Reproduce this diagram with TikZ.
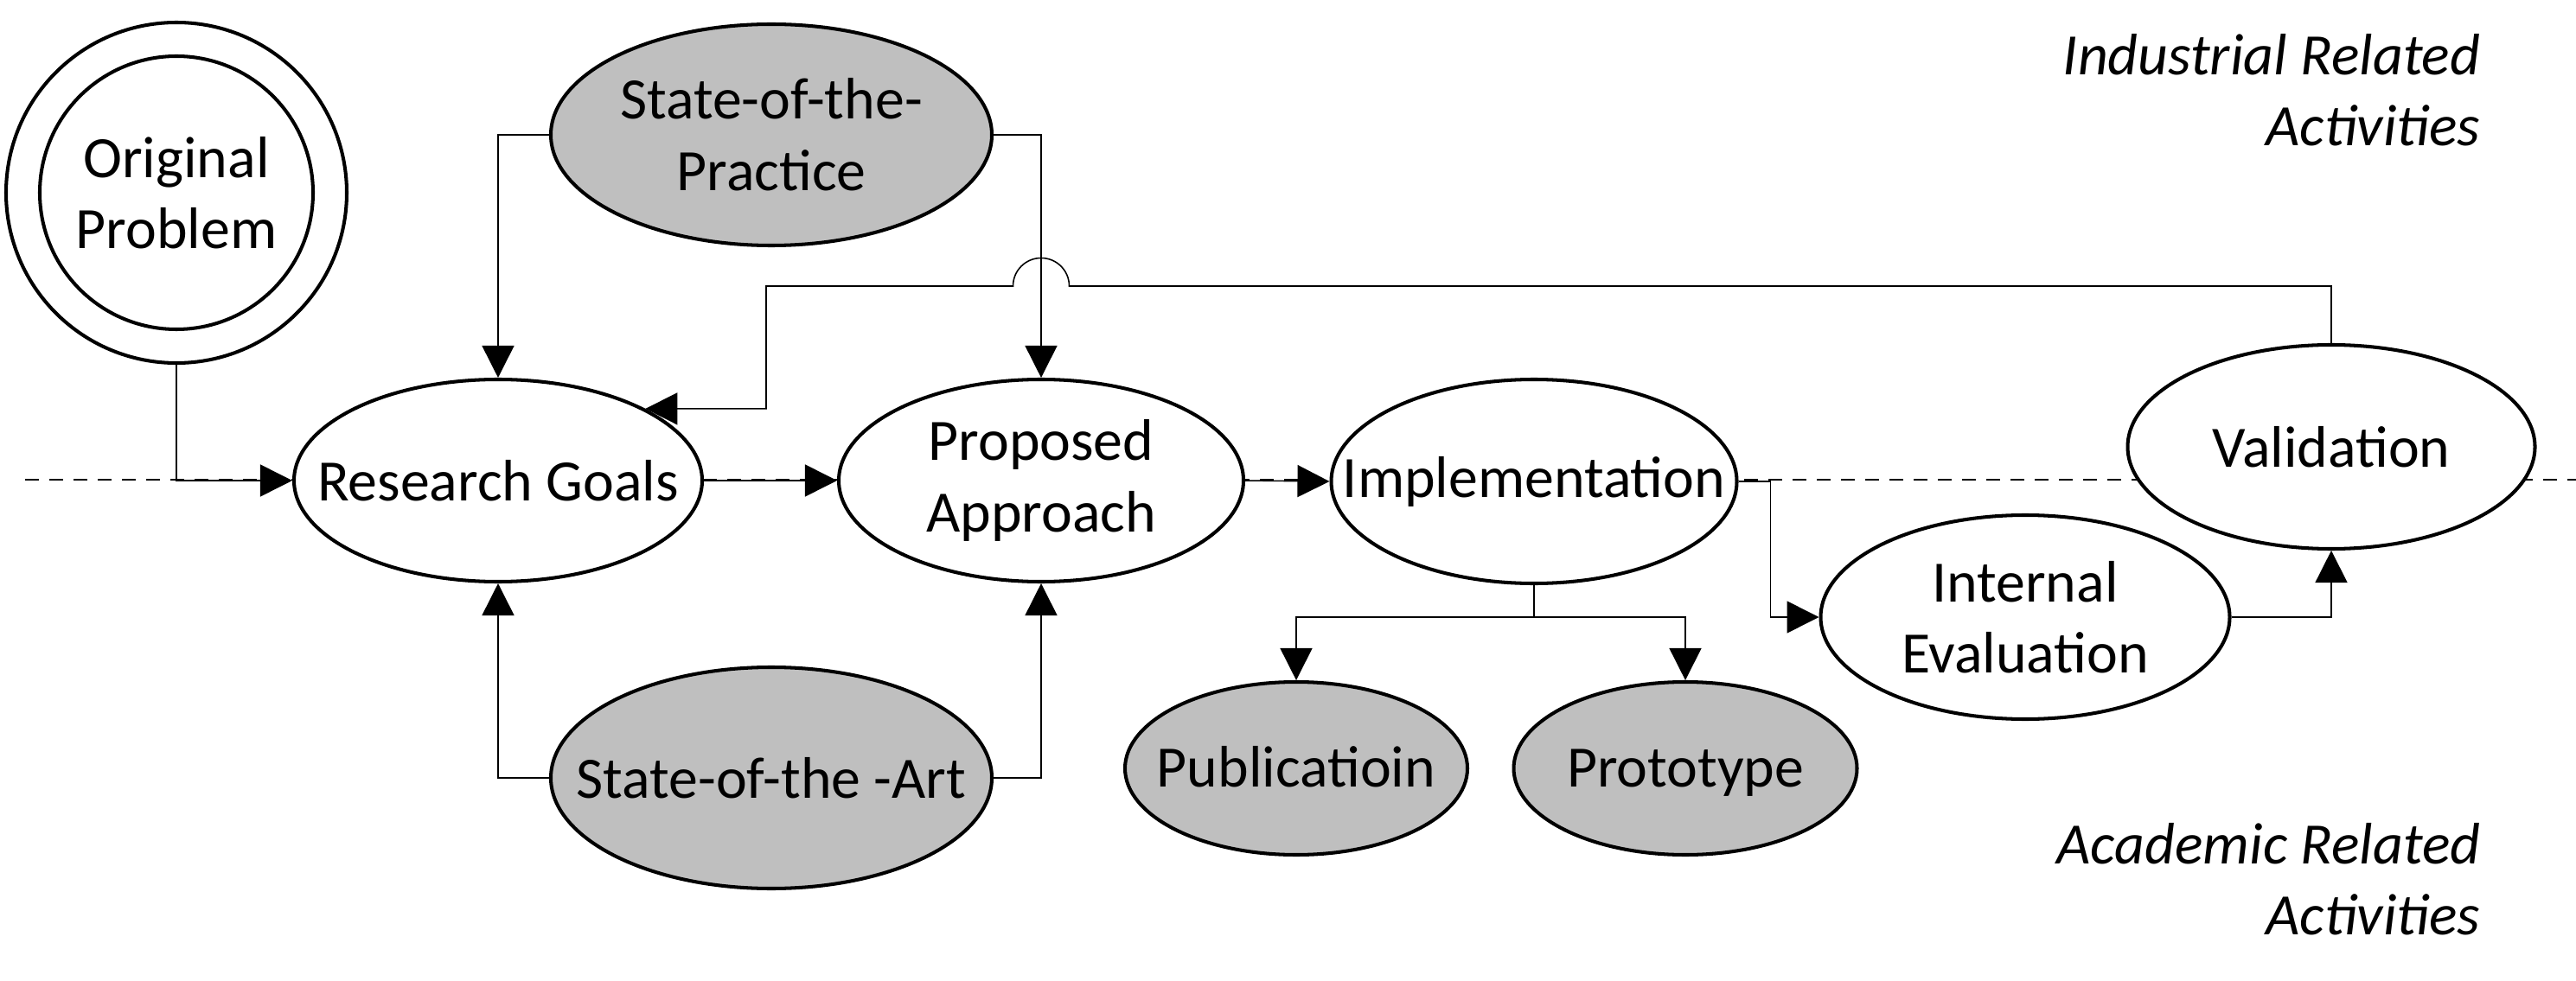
\documentclass[tikz,border=0pt]{standalone}
\usepackage{fontspec}
\setmainfont{Carlito}
\usepackage{tikz}
\usetikzlibrary{arrows.meta, shapes.geometric}
\definecolor{litgray}{RGB}{191,191,191}

\begin{document}
\begin{tikzpicture}[
        blob/.style={draw, ellipse, line width=1.15pt, fill=white,
                     inner xsep=-1.2cm, inner ysep=-0.3cm,
                     align=center, font=\fontsize{19.3}{23.5}\selectfont},
        ring/.style={blob, circle, inner sep=0pt},
        litblob/.style={blob, fill=litgray},
        outblob/.style={litblob, text height=0.55cm, text depth=0.12cm},
        link/.style={line width=0.45pt, -{Triangle[length=3.7mm, width=3.7mm]}},
        side/.style={anchor=east, align=right, inner sep=0pt,
                     font=\fontsize{19.3}{23.5}\selectfont\itshape}
    ]
                \useasboundingbox (0, 0) rectangle (29.79, -11.35);

                \draw[line width=0.45pt, dashed, dash pattern=on 1.6mm off 1.2mm] (0.29, -5.55) -- (29.79, -5.55);

                \node[ring, minimum size=3.94cm] (origout) at (2.04, -2.23) {};
                \node[ring, minimum size=3.16cm] (orig) at (2.04, -2.23) {Original\\Problem};

                \node[blob, minimum width=4.72cm, minimum height=2.34cm] (goals) at (5.76, -5.56) {Research Goals};
                \node[blob, minimum width=4.68cm, minimum height=2.34cm] (approach) at (12.04, -5.56) {Proposed\\Approach};
                \node[litblob, minimum width=5.10cm, minimum height=2.56cm] (practice) at (8.92, -1.56) {State-of-the-\\Practice};
                \node[litblob, minimum width=5.10cm, minimum height=2.56cm] (art) at (8.92, -9.00) {State-of-the -Art};
                \node[blob, minimum width=4.69cm, minimum height=2.36cm] (impl) at (17.74, -5.57) {Implementation};
                \node[blob, minimum width=4.71cm, minimum height=2.36cm] (valid) at (26.96, -5.17) {Validation};
                \node[blob, minimum width=4.73cm, minimum height=2.36cm] (inteval) at (23.42, -7.14) {Internal\\Evaluation};
                \node[outblob, minimum width=3.96cm, minimum height=2.0cm] (pub) at (14.99, -8.89) {Publicatioin};
                \node[outblob, minimum width=3.97cm, minimum height=2.0cm] (proto) at (19.49, -8.89) {Prototype};

                \node[side] (industry) at (28.69, -1.04) {Industrial Related\\Activities};
                \node[side] (academy) at (28.69, -10.17) {Academic Related\\Activities};

                \coordinate (hop) at (12.04, -3.31);
                \coordinate (fbturn) at (8.86, -3.31);

                \draw[link] (origout.south) |- (goals.west);
                \draw[link] (goals.east) -- (approach.west);
                \draw[link] (approach.east) -- (impl.west);
                \draw[link] (practice.west) -| (goals.north);
                \draw[link] (practice.east) -| (approach.north);
                \draw[link] (art.west) -| (goals.south);
                \draw[link] (art.east) -| (approach.south);
                \draw[link] (valid.north) |- ([xshift=3.25mm]hop)
                    arc[start angle=0, end angle=180, radius=3.25mm]
                    -- (fbturn) |- (goals.26);
                \draw[link] (impl.east) -- ++(0.37, 0) |- (inteval.west);
                \draw[link] (inteval.east) -| (valid.south);
                \draw[link] (impl.south) -- ++(0, -0.37) -| (pub.north);
                \draw[link] (impl.south) -- ++(0, -0.37) -| (proto.north);
            \end{tikzpicture}
\end{document}
